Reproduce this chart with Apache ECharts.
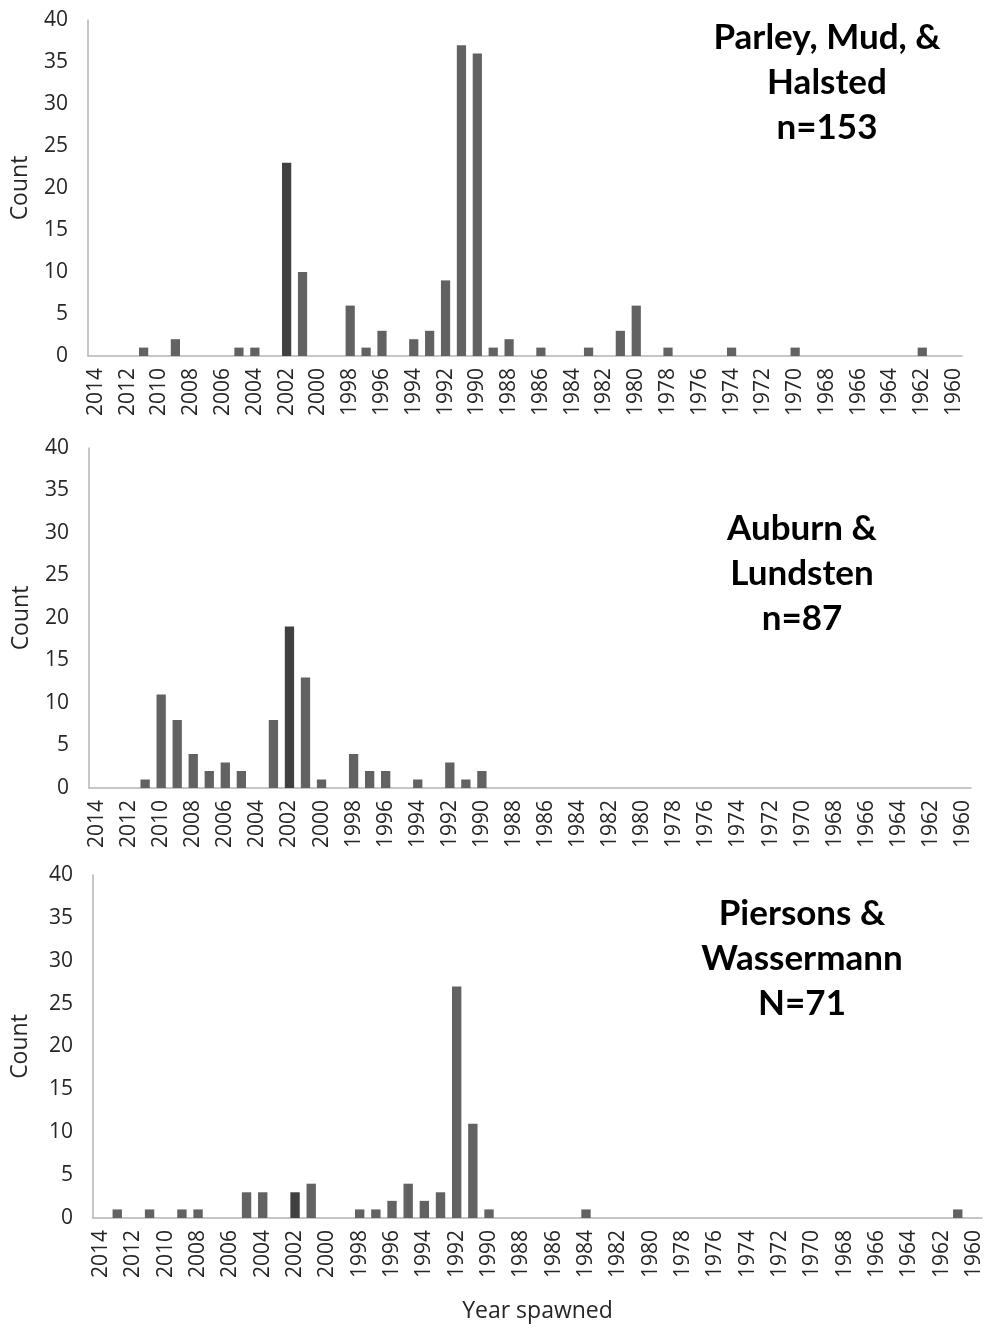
<!DOCTYPE html>
<html>
<head>
<meta charset="utf-8">
<script src="https://cdn.jsdelivr.net/npm/echarts@6/dist/echarts.min.js"></script>
<style>
html,body{margin:0;padding:0;background:#fff;}
#chart{width:985px;height:1329px;}
</style>
</head>
<body>
<div id="chart"></div>
<script>
// Categories: year spawned, 2014 down to 1960
const years = [2014,2013,2012,2011,2010,2009,2008,2007,2006,2005,2004,2003,2002,2001,2000,
  1999,1998,1997,1996,1995,1994,1993,1992,1991,1990,1989,1988,1987,1986,1985,1984,1983,1982,
  1981,1980,1979,1978,1977,1976,1975,1974,1973,1972,1971,1970,1969,1968,1967,1966,1965,1964,
  1963,1962,1961,1960];

// Panel 1: Parley, Mud, & Halsted (n=153)
const parleyYears  = [2011,2009,2005,2004,2002,2001,1998,1997,1996,1994,1993,1992,1991,1990,1989,1988,1986,1983,1981,1980,1978,1974,1970,1962];
const parleyCounts = [1,   2,   1,   1,   23,  10,  6,   1,   3,   2,   3,   9,   37,  36,  1,   2,   1,   1,   3,   6,   1,   1,   1,   1];

// Panel 2: Auburn & Lundsten (n=87)
const auburnYears  = [2011,2010,2009,2008,2007,2006,2005,2003,2002,2001,2000,1998,1997,1996,1994,1992,1991,1990];
const auburnCounts = [1,   11,  8,   4,   2,   3,   2,   8,   19,  13,  1,   4,   2,   2,   1,   3,   1,   2];

// Panel 3: Piersons & Wassermann (N=71)
const piersonsYears  = [2013,2011,2009,2008,2005,2004,2002,2001,1998,1997,1996,1995,1994,1993,1992,1991,1990,1984,1961];
const piersonsCounts = [1,   1,   1,   1,   3,   3,   3,   4,   1,   1,   2,   4,   2,   3,   27,  11,  1,   1,   1];

const yTicks = [0,5,10,15,20,25,30,35,40];
const highlightYear = 2002;

const panelTitles = ['Parley, Mud, &\nHalsted\nn=153', 'Auburn &\nLundsten\nn=87', 'Piersons &\nWassermann\nN=71'];

function toSeries(ys, cs) {
  return years.map(y => {
    const i = ys.indexOf(y);
    return i >= 0 ? cs[i] : 0;
  });
}

const panels = [
  {ys: parleyYears, cs: parleyCounts},
  {ys: auburnYears, cs: auburnCounts},
  {ys: piersonsYears, cs: piersonsCounts}
];

const grids = [
  {left: 88, right: 23, top: 20, height: 336},
  {left: 89, right: 14, top: 448, height: 340},
  {left: 93, right: 3, top: 875, height: 343}
];
const nameGaps = [56, 56, 61];
const titlePos = [[827, 15], [802, 506], [802, 891]];

const labelFont = 'Open Sans';
const axisColor = '#b4b4b4';
const textColor = '#262626';

const option = {
  backgroundColor: '#ffffff',
  animation: false,
  grid: grids,
  xAxis: grids.map((g, i) => ({
    type: 'category',
    gridIndex: i,
    data: years.map(String),
    axisLine: {show: true, lineStyle: {color: axisColor, width: 1.5}},
    axisTick: {show: false},
    axisLabel: {
      interval: 1, rotate: 90, margin: 12,
      fontFamily: labelFont, fontSize: 21, color: textColor
    },
    splitLine: {show: false},
    name: i === 2 ? 'Year spawned' : '',
    nameLocation: 'middle',
    nameGap: 82,
    nameTextStyle: {fontFamily: labelFont, fontSize: 23, color: textColor}
  })),
  yAxis: grids.map((g, i) => ({
    type: 'value',
    gridIndex: i,
    min: yTicks[0], max: yTicks[yTicks.length - 1], interval: 5,
    axisLine: {show: true, lineStyle: {color: axisColor, width: 1.5}},
    axisTick: {show: false},
    splitLine: {show: false},
    axisLabel: {margin: 20, fontFamily: labelFont, fontSize: 21, color: textColor},
    name: 'Count',
    nameLocation: 'middle',
    nameGap: nameGaps[i],
    nameRotate: 90,
    nameTextStyle: {fontFamily: labelFont, fontSize: 23, color: textColor}
  })),
  series: panels.map((p, i) => ({
    type: 'bar',
    xAxisIndex: i,
    yAxisIndex: i,
    barWidth: '58%',
    data: toSeries(p.ys, p.cs),
    itemStyle: {
      color: params => (years[params.dataIndex] === highlightYear ? '#404040' : '#626262')
    }
  })),
  graphic: panelTitles.map((t, i) => ({
    type: 'text',
    x: titlePos[i][0],
    y: titlePos[i][1],
    style: {
      text: t,
      textAlign: 'center',
      textVerticalAlign: 'top',
      fontFamily: 'Lato',
      fontWeight: 'bold',
      fontSize: 35,
      lineHeight: 45,
      fill: '#000000'
    }
  }))
};

const chart = echarts.init(document.getElementById('chart'), null, {renderer: 'canvas'});
chart.setOption(option);
</script>
</body>
</html>
